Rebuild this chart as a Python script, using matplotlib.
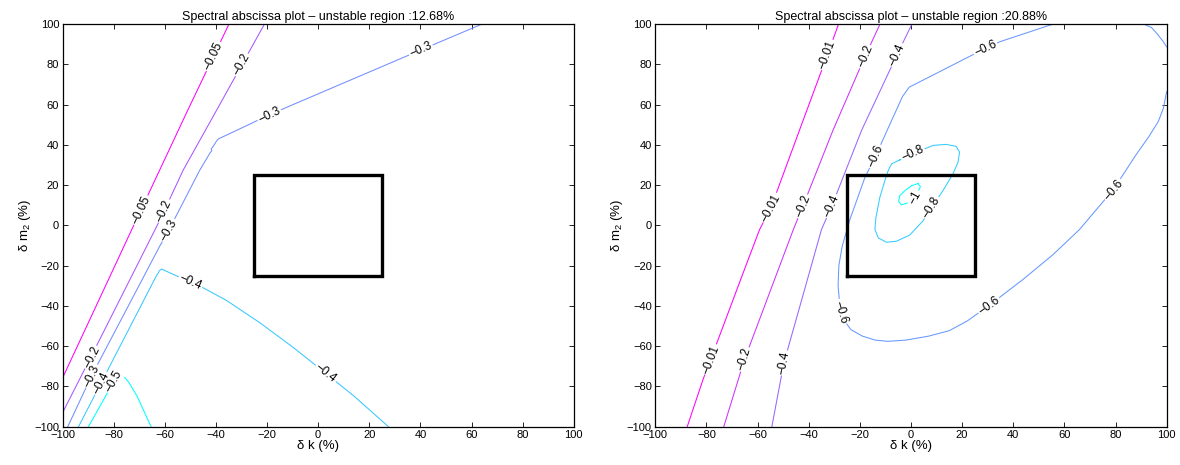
import matplotlib
matplotlib.use("Agg")
import matplotlib.pyplot as plt
import numpy as np
from matplotlib import cm, colors

plt.rcParams['font.family'] = ['Liberation Sans', 'DejaVu Sans']
plt.rcParams['mathtext.fontset'] = 'custom'
plt.rcParams['mathtext.rm'] = 'Liberation Sans'
plt.rcParams['axes.unicode_minus'] = True

# ---- left panel: contour lines (dk %, dm2 %) ----
left_title = "Spectral abscissa plot \u2013 unstable region :12.68%"
left_levels = [-0.5, -0.4, -0.3, -0.2, -0.05]

left_005 = [(-100, -75.7), (-72.0, 0.5), (-51.0, 57.3), (-34.9, 100)]
left_02 = [(-100, -93.0), (-88.6, -64.5), (-61.8, 3.0), (-52.8, 27.5),
           (-39.7, 57.3), (-21.0, 100)]
left_03 = [(-98.0, -100), (-88.7, -74.8), (-85.3, -66.6), (-62.0, -10.3),
           (-58.5, -2.5), (-46.3, 27.5), (-42.4, 35.8), (-41.6, 37.2),
           (-41.9, 37.9), (-41.0, 39.4), (-39.7, 42.0), (-39.1, 42.9),
           (-26.7, 50.3), (-19.2, 54.9), (40.2, 87.1), (64.2, 100)]
left_04 = [(-93.8, -100), (-63.7, -26.0), (-63.0, -24.3), (-62.6, -23.8),
           (-62.2, -22.6), (-61.3, -21.7), (-53.7, -26.1), (-44.9, -31.1),
           (-36.0, -37.2), (-22.8, -48.4), (-9.6, -60.8), (0.7, -71.2),
           (14.0, -84.8), (27.5, -100)]
left_05 = [(-89.9, -100), (-77.7, -72.4), (-74.0, -78.2), (-70.9, -84.8),
           (-65.4, -100)]

left_005_labels = [(-40.9, 83.8), (-69.3, 7.5)]
left_02_labels = [(-29.9, 79.7), (-60.3, 7.1), (-88.6, -65.7)]
left_03_labels = [(40.2, 87.1), (-19.2, 54.9), (-58.5, -2.5), (-88.7, -74.8)]
left_04_labels = [(-85.0, -78.5), (-50.0, -28.2), (3.0, -73.5)]
left_05_labels = [(-80.0, -77.5)]

# ---- right panel ----
right_title = "Spectral abscissa plot \u2013 unstable region :20.88%"
right_levels = [-1, -0.8, -0.6, -0.4, -0.2, -0.01]

right_001 = [(-87.5, -100), (-81.3, -76.5), (-75.4, -56.7), (-66.6, -26.9),
             (-59.2, -2.1), (-54.8, 8.6), (-42.8, 50.0), (-32.7, 84.6),
             (-28.3, 100)]
right_02 = [(-73.2, -100), (-65.1, -66.6), (-46.0, -2.1), (-42.3, 9.4),
            (-30.5, 47.2), (-18.0, 83.8), (-12.1, 100)]
right_04 = [(-54.4, -100), (-49.7, -68.3), (-41.6, -31.9), (-35.0, -2.1),
            (-31.0, 9.5), (-19.3, 47.2), (-5.5, 84.6), (0.4, 100)]
right_06_main = [(55.7, 100), (34.8, 91.2), (29.1, 87.9), (-0.7, 68.6),
                 (-3.3, 64.0), (-9.3, 47.2), (-13.9, 34.2), (-18.0, 23.8),
                 (-23.9, 2.8), (-26.9, -10.4), (-28.2, -20.0), (-28.5, -30.0),
                 (-27.8, -40.0), (-26.2, -47.0), (-23.5, -51.8), (-19.0, -55.0),
                 (-14.0, -57.0), (-9.0, -57.6), (-2.0, -57.0), (7.0, -55.0),
                 (15.0, -52.3), (22.0, -47.5), (30.5, -39.8), (43.8, -26.9),
                 (55.6, -14.5), (65.9, -2.1), (79.1, 17.7), (88.0, 35.0),
                 (93.0, 44.0), (96.7, 51.5), (98.7, 58.1), (100, 66.4)]
right_06_corner = [(90.9, 100), (94.0, 98.3), (96.1, 95.4), (98.7, 91.2),
                   (100, 88.6)]
right_08 = [(-4.4, 32.5), (-7.6, 30.5), (-8.9, 27.2), (-10.2, 22.2),
            (-12.2, 13.8), (-13.7, 3.8), (-14.1, -2.0), (-12.8, -6.2),
            (-9.6, -8.4), (-5.7, -7.9), (-0.5, -4.85), (4.7, 2.2), (8.0, 8.8),
            (12.5, 17.2), (16.4, 25.5), (18.4, 31.3), (19.0, 36.3),
            (17.7, 39.2), (13.8, 40.2), (8.6, 39.7), (0.8, 35.5), (-4.4, 32.5)]
right_1 = [(2.8, 20.8), (3.7, 19.2), (2.8, 16.8), (1.5, 13.8), (-1.1, 11.3),
           (-3.7, 10.15), (-4.8, 11.8), (-4.4, 14.7), (-2.4, 17.2),
           (0.2, 19.65), (2.8, 20.8)]

right_001_labels = [(-32.7, 84.6), (-54.8, 8.6), (-78.4, -66.6)]
right_02_labels = [(-18.0, 83.8), (-42.3, 9.4), (-65.1, -66.6)]
right_04_labels = [(-5.5, 84.6), (-31.0, 9.5), (-49.7, -68.3)]
right_06_labels = [(29.1, 87.9), (-13.9, 34.2), (-27.5, -43.0), (30.5, -39.8),
                   (79.1, 17.7)]
right_08_labels = [(0.8, 35.5), (8.0, 8.8)]
right_1_labels = [(1.5, 13.8)]

# nominal box (+-25 %)
box_x = [-25, 25, 25, -25, -25]
box_y = [-25, -25, 25, 25, -25]

ticks = list(range(-100, 101, 20))


def label_angle(path, lx, ly):
    # angle of the path segment closest to the label point (data space)
    best, ang = 1e9, 0.0
    for (x0, y0), (x1, y1) in zip(path[:-1], path[1:]):
        dx, dy = x1 - x0, y1 - y0
        L2 = dx * dx + dy * dy
        t = 0 if L2 == 0 else max(0, min(1, ((lx - x0) * dx + (ly - y0) * dy) / L2))
        d = (x0 + t * dx - lx) ** 2 + (y0 + t * dy - ly) ** 2
        if d < best:
            best, ang = d, np.degrees(np.arctan2(dy, dx))
    if ang > 90:
        ang -= 180
    elif ang <= -90:
        ang += 180
    return ang


def fmt(v):
    return ("%g" % v).replace("-", "\u2212")


def draw_panel(ax, title, levels, contours):
    norm = colors.Normalize(vmin=min(levels), vmax=max(levels))
    for level, paths, labels in contours:
        c = cm.cool(norm(level))
        for p in paths:
            xs, ys = zip(*p)
            ax.plot(xs, ys, color=c, lw=0.75, zorder=2)
        for lx, ly in labels:
            path = min(paths, key=lambda p: min((px - lx) ** 2 + (py - ly) ** 2 for px, py in p))
            ax.text(lx, ly, fmt(level), rotation=label_angle(path, lx, ly),
                    transform_rotates_text=True, rotation_mode='anchor',
                    ha='center', va='center', fontsize=8.5, zorder=3,
                    bbox=dict(boxstyle='square,pad=0.1', fc='white', ec='none'))
    ax.plot(box_x, box_y, color='black', lw=2.4, zorder=4, solid_joinstyle='miter')
    ax.set_xlim(-100, 100)
    ax.set_ylim(-100, 100)
    ax.set_xticks(ticks)
    ax.set_yticks(ticks)
    ax.tick_params(direction='in', top=True, right=True, length=3.5, width=0.6,
                   labelsize=8, pad=2.5)
    for s in ax.spines.values():
        s.set_linewidth(0.9)
    ax.set_title(title, fontsize=9, pad=3)
    ax.set_xlabel("\u03b4 k (%)", fontsize=9.5, labelpad=0)
    ax.set_ylabel("\u03b4 m$_2$ (%)", fontsize=9.5, labelpad=1)


fig = plt.figure(figsize=(11.8, 4.65), dpi=100)
ax1 = fig.add_axes([0.0531, 0.0824, 0.4331, 0.866])
ax2 = fig.add_axes([0.5553, 0.0824, 0.4334, 0.866])

draw_panel(ax1, left_title, left_levels, [
    (-0.05, [left_005], left_005_labels),
    (-0.2, [left_02], left_02_labels),
    (-0.3, [left_03], left_03_labels),
    (-0.4, [left_04], left_04_labels),
    (-0.5, [left_05], left_05_labels),
])
draw_panel(ax2, right_title, right_levels, [
    (-0.01, [right_001], right_001_labels),
    (-0.2, [right_02], right_02_labels),
    (-0.4, [right_04], right_04_labels),
    (-0.6, [right_06_main, right_06_corner], right_06_labels),
    (-0.8, [right_08], right_08_labels),
    (-1, [right_1], right_1_labels),
])

fig.savefig("out.png", dpi=100)
